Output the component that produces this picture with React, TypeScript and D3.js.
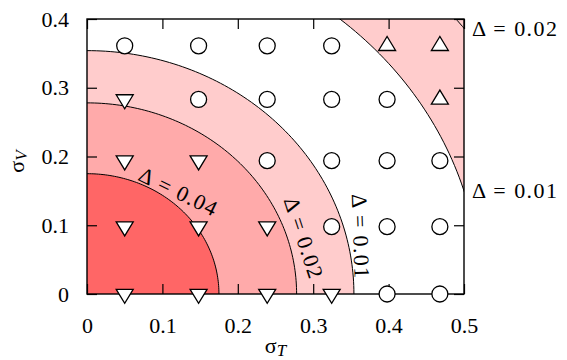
import React, { useEffect, useRef } from 'react';
import * as d3 from 'd3';

// grid of simulated (sigma_T, sigma_V) points
const sigmaT = [0.05, 0.148, 0.239, 0.3245, 0.398, 0.468];
const sigmaV = [0, 0.098, 0.194, 0.283, 0.361];
// marker type per row (sigmaV) and column (sigmaT): d = down triangle, c = circle, u = up triangle
const markerRows = [
  ['d', 'd', 'd', 'd', 'c', 'c'],
  ['d', 'd', 'd', 'c', 'c', 'c'],
  ['d', 'd', 'c', 'c', 'c', 'c'],
  ['d', 'c', 'c', 'c', 'c', 'u'],
  ['c', 'c', 'c', 'c', 'u', 'u'],
];

// contour radii in (sigma_T, sigma_V)
const contourRadii = [0.175, 0.278, 0.354, 0.522, 0.632];
const fillRadii = [0.522, 0.354, 0.278, 0.175];
const fillColors = ['#ffffff', '#ffcccc', '#ffaaaa', '#ff6666'];
const outerColor = '#ffcccc';

// labels along the inner contours
const innerLabels = [
  { text: 'Δ = 0.04', t: 0.1207, v: 0.149, angle: 26 },
  { text: 'Δ = 0.02', t: 0.287, v: 0.082, angle: 72 },
  { text: 'Δ = 0.01', t: 0.3627, v: 0.0844, angle: 88 },
];
// labels on the right, where the outer contours leave the frame
const rightLabels = [
  { text: 'Δ = 0.02', r: 0.632 },
  { text: 'Δ = 0.01', r: 0.522 },
];

const xTicks = [0, 0.1, 0.2, 0.3, 0.4, 0.5];
const yTicks = [0, 0.1, 0.2, 0.3, 0.4];

const W = 567;
const H = 360;
const FONT = 'Liberation Serif';

const App = () => {
  const svgRef = useRef<SVGSVGElement | null>(null);

  useEffect(() => {
    const svg = d3.select(svgRef.current);
    svg.selectAll('*').remove();

    const left = 87, right = 464, top = 19, bottom = 294;
    const x = d3.scaleLinear().domain([0, 0.5]).range([left, right]);
    const y = d3.scaleLinear().domain([0, 0.4]).range([bottom, top]);

    svg.append('defs')
      .append('clipPath')
      .attr('id', 'plotclip')
      .append('rect')
      .attr('x', left)
      .attr('y', top)
      .attr('width', right - left)
      .attr('height', bottom - top);

    const plot = svg.append('g').attr('clip-path', 'url(#plotclip)');

    const angles = d3.range(0, 91).map(d => (d * Math.PI) / 180);
    const arc = (r: number) =>
      d3.line<number>()
        .x(a => x(r * Math.cos(a)))
        .y(a => y(r * Math.sin(a)))(angles);
    const disc = (r: number) => `M${x(0)},${y(0)}L` + arc(r)!.slice(1) + 'Z';

    // colour bands
    plot.append('rect')
      .attr('x', left).attr('y', top)
      .attr('width', right - left).attr('height', bottom - top)
      .attr('fill', outerColor);
    fillRadii.forEach((r, i) => {
      plot.append('path').attr('d', disc(r)).attr('fill', fillColors[i]);
    });

    // contour lines
    contourRadii.forEach(r => {
      plot.append('path')
        .attr('d', arc(r))
        .attr('fill', 'none')
        .attr('stroke', '#000')
        .attr('stroke-width', 1);
    });

    // labels on contours
    innerLabels.forEach(l => {
      svg.append('text')
        .attr('transform', `translate(${x(l.t)},${y(l.v)}) rotate(${l.angle})`)
        .attr('text-anchor', 'middle')
        .attr('dy', '0.33em')
        .attr('textLength', 84)
        .attr('lengthAdjust', 'spacing')
        .attr('font-family', FONT)
        .attr('font-size', 22)
        .text(l.text);
    });

    // axes, ticks pointing inwards on all sides
    const styleAxis = (g: any) => {
      g.attr('font-family', FONT).attr('font-size', 22);
      g.select('.domain').remove();
      g.selectAll('.tick line').attr('stroke', '#000').attr('stroke-width', 1.2);
      g.selectAll('text').attr('fill', '#000');
    };
    const fmt = (d: any) => (d === 0 ? '0' : d3.format('.1f')(d));

    svg.append('g')
      .attr('transform', `translate(0,${bottom})`)
      .call(d3.axisBottom(x).tickValues(xTicks).tickSizeInner(-10).tickSizeOuter(0).tickFormat(fmt))
      .call(styleAxis)
      .selectAll('text')
      .attr('y', 39)
      .attr('dy', 0);
    svg.append('g')
      .attr('transform', `translate(0,${top})`)
      .call(d3.axisTop(x).tickValues(xTicks).tickSizeInner(-10).tickSizeOuter(0).tickFormat(() => ''))
      .call(styleAxis);
    svg.append('g')
      .attr('transform', `translate(${left},0)`)
      .call(d3.axisLeft(y).tickValues(yTicks).tickSizeInner(-10).tickSizeOuter(0).tickPadding(18).tickFormat(fmt))
      .call(styleAxis);
    svg.append('g')
      .attr('transform', `translate(${right},0)`)
      .call(d3.axisRight(y).tickValues(yTicks).tickSizeInner(-10).tickSizeOuter(0).tickFormat(() => ''))
      .call(styleAxis);

    // frame
    svg.append('rect')
      .attr('x', left).attr('y', top)
      .attr('width', right - left).attr('height', bottom - top)
      .attr('fill', 'none')
      .attr('stroke', '#000')
      .attr('stroke-width', 1.4);

    // markers
    const tw = 17, th = 14;
    const points = markerRows.flatMap((row, i) =>
      row.map((type, j) => ({ t: sigmaT[j], v: sigmaV[i], type }))
    );
    const markers = svg.append('g')
      .attr('fill', '#fff')
      .attr('stroke', '#000')
      .attr('stroke-width', 1.3);
    points.forEach(p => {
      const cx = x(p.t), cy = y(p.v);
      if (p.type === 'c') {
        markers.append('circle').attr('cx', cx).attr('cy', cy).attr('r', 8);
      } else if (p.type === 'd') {
        markers.append('path').attr('d',
          `M${cx - tw / 2},${cy - th / 3}L${cx + tw / 2},${cy - th / 3}L${cx},${cy + (2 * th) / 3}Z`);
      } else {
        markers.append('path').attr('d',
          `M${cx - tw / 2},${cy + th / 3}L${cx + tw / 2},${cy + th / 3}L${cx},${cy - (2 * th) / 3}Z`);
      }
    });

    // right-hand labels
    rightLabels.forEach(l => {
      const v = Math.sqrt(l.r * l.r - 0.25);
      svg.append('text')
        .attr('x', right + 8)
        .attr('y', y(v))
        .attr('dy', '0.33em')
        .attr('textLength', 85)
        .attr('lengthAdjust', 'spacing')
        .attr('font-family', FONT)
        .attr('font-size', 22)
        .text(l.text);
    });

    // axis titles
    const xt = svg.append('text')
      .attr('x', (left + right) / 2)
      .attr('y', 353)
      .attr('text-anchor', 'middle')
      .attr('font-family', FONT)
      .attr('font-size', 22);
    xt.append('tspan').text('σ');
    xt.append('tspan').attr('dy', 3).attr('font-style', 'italic').attr('font-size', 17).text('T');

    const yt = svg.append('text')
      .attr('transform', `translate(24,${(top + bottom) / 2 + 5}) rotate(-90)`)
      .attr('text-anchor', 'middle')
      .attr('font-family', FONT)
      .attr('font-size', 22);
    yt.append('tspan').text('σ');
    yt.append('tspan').attr('dy', 3).attr('font-style', 'italic').attr('font-size', 17).text('V');
  }, []);

  return (
    <svg
      ref={svgRef}
      width={W}
      height={H}
      fontFamily={FONT}
      style={{ position: 'absolute', left: 0, top: 0, background: '#fff' }}
    />
  );
};

export default App;
